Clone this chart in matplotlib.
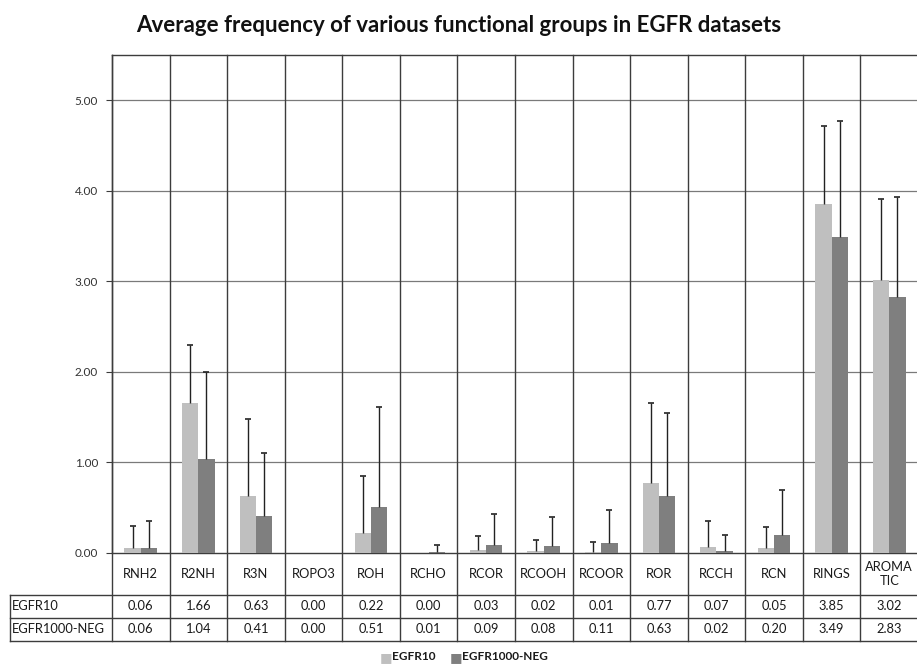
import matplotlib
matplotlib.use('Agg')
import matplotlib.pyplot as plt
import matplotlib.transforms as mtransforms
import numpy as np

plt.rcParams['font.family'] = ['Lato', 'DejaVu Sans']

groups = ['RNH2', 'R2NH', 'R3N', 'ROPO3', 'ROH', 'RCHO', 'RCOR', 'RCOOH',
          'RCOOR', 'ROR', 'RCCH', 'RCN', 'RINGS', 'AROMA\nTIC']
egfr10 = [0.06, 1.66, 0.63, 0.00, 0.22, 0.00, 0.03, 0.02, 0.01, 0.77, 0.07, 0.05, 3.85, 3.02]
egfr_neg = [0.06, 1.04, 0.41, 0.00, 0.51, 0.01, 0.09, 0.08, 0.11, 0.63, 0.02, 0.20, 3.49, 2.83]
# upper error (std dev) read from whisker tops
egfr10_err = [0.24, 0.64, 0.85, 0.00, 0.63, 0.00, 0.16, 0.12, 0.11, 0.89, 0.28, 0.24, 0.87, 0.89]
egfr_neg_err = [0.29, 0.96, 0.69, 0.00, 1.10, 0.08, 0.34, 0.32, 0.36, 0.92, 0.18, 0.49, 1.28, 1.10]
series = ['EGFR10', 'EGFR1000-NEG']
yticks = [0, 1, 2, 3, 4, 5]

light = '#bfbfbf'
dark = '#7f7f7f'
line_c = '#3c3c3c'
txt_c = '#1a1a1a'

fig = plt.figure(figsize=(9.17, 6.68), dpi=100)
ax = fig.add_axes([0.1221, 0.1722, 0.8790, 0.7455])

n = len(groups)
x = np.arange(n) + 0.5
w = 0.283

ax.bar(x - w / 2, egfr10, w, color=light, zorder=3)
ax.bar(x + w / 2, egfr_neg, w, color=dark, zorder=3)

# one-sided error bars (upper only, cap at top)
for xs, vals, errs in [(x - w / 2, egfr10, egfr10_err), (x + w / 2, egfr_neg, egfr_neg_err)]:
    vals = np.array(vals)
    errs = np.array(errs)
    m = errs > 0
    ax.vlines(xs[m], vals[m], vals[m] + errs[m], color='#222222', lw=1, zorder=4)
    ax.plot(xs[m], vals[m] + errs[m], ls='none', marker='_', ms=5, mew=1.2,
            color='#222222', zorder=4)

ax.set_xlim(0, n)
ax.set_ylim(0, 5.5)
ax.set_yticks(yticks)
ax.set_yticklabels(['%.2f' % v for v in yticks], fontsize=8.5, color='#333333')
ax.tick_params(axis='y', length=4, color=line_c, pad=6)
ax.set_xticks([])
for v in yticks[1:]:
    ax.axhline(v, color='#7a7a7a', lw=0.9, zorder=1)
for s in ax.spines.values():
    s.set_color(line_c)
    s.set_linewidth(1)

# data table below the plot
tr = mtransforms.blended_transform_factory(ax.transData, ax.transAxes)
h_bot = -42 / 498
r1_bot = -65 / 498
r2_bot = -88 / 498
lab_left = -102 / 57.6
fs = 9.3

for i in range(n + 1):
    ax.plot([i, i], [r2_bot, 1], color=line_c, lw=1, transform=tr, clip_on=False, zorder=2)
for yy in [h_bot, r1_bot, r2_bot]:
    ax.plot([lab_left, n], [yy, yy], color=line_c, lw=1, transform=tr, clip_on=False)
ax.plot([lab_left, lab_left], [h_bot, r2_bot], color=line_c, lw=1, transform=tr, clip_on=False)

for i, g in enumerate(groups):
    ax.text(x[i], h_bot / 2, g, ha='center', va='center', fontsize=fs,
            color=txt_c, transform=tr, linespacing=1.25)
    ax.text(x[i], (h_bot + r1_bot) / 2, '%.2f' % egfr10[i], ha='center', va='center',
            fontsize=fs, color=txt_c, transform=tr)
    ax.text(x[i], (r1_bot + r2_bot) / 2, '%.2f' % egfr_neg[i], ha='center', va='center',
            fontsize=fs, color=txt_c, transform=tr)
ax.text(lab_left + 0.03, (h_bot + r1_bot) / 2, series[0], ha='left', va='center',
        fontsize=fs, color=txt_c, transform=tr)
ax.text(lab_left + 0.03, (r1_bot + r2_bot) / 2, series[1], ha='left', va='center',
        fontsize=fs, color=txt_c, transform=tr)

# legend
fig.text(0.4145, 0.0165, '\u25a0', color=light, fontsize=9.5, ha='left', va='center')
fig.text(0.4275, 0.0165, series[0], fontsize=8.5, fontweight='bold', ha='left', va='center', color=txt_c)
fig.text(0.4905, 0.0165, '\u25a0', color=dark, fontsize=9.5, ha='left', va='center')
fig.text(0.5035, 0.0165, series[1], fontsize=8.5, fontweight='bold', ha='left', va='center', color=txt_c)

fig.text(0.5, 0.962, 'Average frequency of various functional groups in EGFR datasets',
         ha='center', va='center', fontsize=16, fontweight='bold', color='#111111')

fig.savefig('out.png', dpi=100)
